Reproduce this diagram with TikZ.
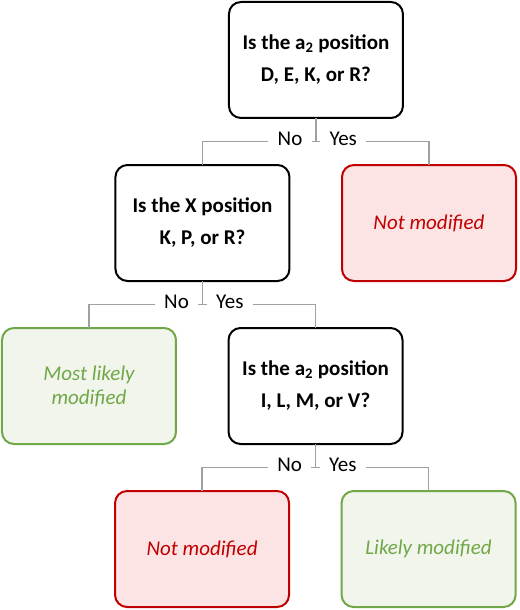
\documentclass[tikz,border=0pt]{standalone}
\usepackage{fontspec}
\setmainfont{Carlito}
\usetikzlibrary{positioning, calc}

\definecolor{nomodred}{RGB}{192,0,0}
\definecolor{nomodfill}{RGB}{252,228,228}
\definecolor{modgreen}{RGB}{112,168,71}
\definecolor{modfill}{RGB}{242,245,236}
\definecolor{branchgray}{RGB}{160,160,160}

\begin{document}
\begin{tikzpicture}[
    node distance=35.25pt and 39.4pt,
    box/.style={
        rectangle,
        rounded corners=9pt,
        line width=1.5pt,
        minimum width=130.5pt,
        minimum height=87pt,
        align=center,
        outer sep=0pt
    },
    question/.style={
        box,
        draw=black,
        fill=white,
        font=\fontsize{15.75}{24}\selectfont\bfseries
    },
    nomod/.style={
        box,
        draw=nomodred,
        fill=nomodfill,
        text=nomodred,
        font=\fontsize{15.75}{18}\selectfont\itshape
    },
    mod/.style={
        box,
        draw=modgreen,
        fill=modfill,
        text=modgreen,
        font=\fontsize{15.75}{18}\selectfont\itshape
    },
    branch/.style={
        draw=branchgray,
        line width=1pt
    },
    answer/.style={
        fill=white,
        inner xsep=7pt,
        inner ysep=2pt,
        yshift=2pt,
        font=\fontsize{15.75}{18}\selectfont
    }
]

    % Question 1
    \node[question] (q1) {Is the a\textsubscript{2} position\\D, E, K, or R?};

    % Question 2 and first outcome
    \node[question, below=of q1, xshift=-85.1pt] (q2) {Is the X position\\K, P, or R?};
    \node[nomod, right=of q2] (out1) {Not modified};

    % Branch 1
    \coordinate (j1) at ($(q1.south)!0.5!(q1.south |- q2.north)$);
    \draw[branch] (q1.south) -- (j1);
    \draw[branch] (q2.north) |- (out1.north |- j1) -- (out1.north);
    \node[answer, left=3pt of j1] (no1) {No};
    \node[answer, right=3pt of j1] (yes1) {Yes};

    % Question 3 and second outcome
    \node[mod, below=of q2, xshift=-85.1pt] (out2) {Most likely\\modified};
    \node[question, right=of out2] (q3) {Is the a\textsubscript{2} position\\I, L, M, or V?};

    % Branch 2
    \coordinate (j2) at ($(q2.south)!0.5!(q2.south |- q3.north)$);
    \draw[branch] (q2.south) -- (j2);
    \draw[branch] (out2.north) |- (q3.north |- j2) -- (q3.north);
    \node[answer, left=3pt of j2] (no2) {No};
    \node[answer, right=3pt of j2] (yes2) {Yes};

    % Last outcomes
    \node[nomod, below=of q3, xshift=-85.1pt] (out3) {Not modified};
    \node[mod, right=of out3] (out4) {Likely modified};

    % Branch 3
    \coordinate (j3) at ($(q3.south)!0.5!(q3.south |- out3.north)$);
    \draw[branch] (q3.south) -- (j3);
    \draw[branch] (out3.north) |- (out4.north |- j3) -- (out4.north);
    \node[answer, left=3pt of j3] (no3) {No};
    \node[answer, right=3pt of j3] (yes3) {Yes};

    \useasboundingbox ($(out2.west |- q1.north)+(-1.5pt,1.5pt)$) rectangle ($(out4.south -| out1.east)+(3pt,-2.25pt)$);

\end{tikzpicture}
\end{document}
